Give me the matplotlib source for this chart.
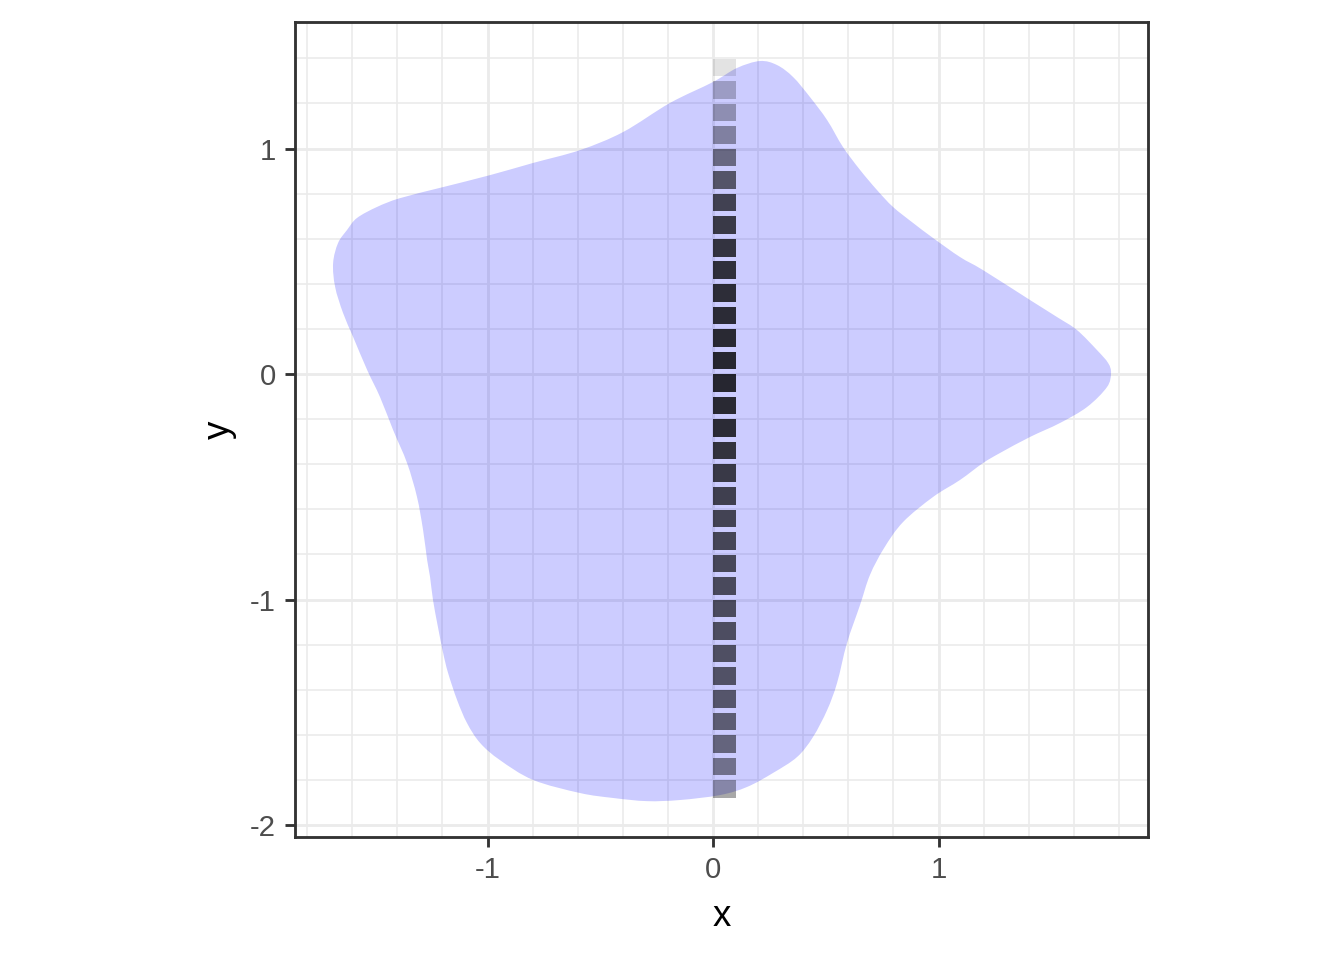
import numpy as np
import matplotlib.pyplot as plt
from matplotlib.ticker import MultipleLocator
from matplotlib.path import Path
from matplotlib.patches import PathPatch

plt.rcParams['font.family'] = ['Liberation Sans', 'DejaVu Sans']

# outline of the blob (clockwise from the top)
blob_x = [0.208, 0.284, 0.355, 0.430, 0.506, 0.576, 0.652, 0.727, 0.798, 0.887,
          0.976, 1.095, 1.197, 1.406, 1.525, 1.614, 1.703, 1.752, 1.765, 1.747,
          1.659, 1.539, 1.406, 1.273, 1.197, 1.095, 0.976, 0.843, 0.759, 0.696,
          0.652, 0.594, 0.550, 0.506, 0.443, 0.373, 0.266, 0.151, 0.031, -0.146,
          -0.293, -0.443, -0.590, -0.798, -0.945, -1.033, -1.091, -1.135, -1.175, -1.197,
          -1.220, -1.242, -1.255, -1.268, -1.286, -1.313, -1.357, -1.419, -1.477, -1.534,
          -1.596, -1.641, -1.676, -1.685, -1.663, -1.623, -1.579, -1.490, -1.388, -1.197,
          -0.989, -0.798, -0.590, -0.399, -0.191, 0.000, 0.106]
blob_y = [1.388, 1.370, 1.317, 1.228, 1.126, 1.007, 0.905, 0.816, 0.741, 0.670,
          0.603, 0.519, 0.461, 0.328, 0.253, 0.195, 0.106, 0.049, 0.004, -0.058,
          -0.146, -0.217, -0.279, -0.350, -0.395, -0.470, -0.545, -0.656, -0.771, -0.891,
          -1.024, -1.193, -1.370, -1.490, -1.610, -1.698, -1.769, -1.831, -1.867, -1.889,
          -1.894, -1.880, -1.858, -1.800, -1.712, -1.636, -1.548, -1.446, -1.326, -1.237,
          -1.122, -1.002, -0.900, -0.825, -0.692, -0.545, -0.395, -0.248, -0.102, 0.018,
          0.164, 0.271, 0.386, 0.492, 0.581, 0.639, 0.692, 0.741, 0.780, 0.829,
          0.882, 0.936, 0.993, 1.073, 1.202, 1.295, 1.357]

# tile column: centres along y and their opacity
tile_y = np.round(np.arange(1.36, -1.85, -0.1), 2)
tile_alpha = [0.11, 0.23, 0.30, 0.37, 0.49, 0.59, 0.68, 0.72, 0.75, 0.77,
              0.78, 0.79, 0.80, 0.81, 0.81, 0.80, 0.79, 0.755, 0.72, 0.69,
              0.67, 0.66, 0.65, 0.64, 0.63, 0.62, 0.61, 0.60, 0.58, 0.55,
              0.51, 0.45, 0.34]
tile_x = 0.05


def smooth_closed_path(xs, ys):
    # closed bezier path through the outline points (catmull-rom handles)
    p = np.column_stack([xs, ys])
    n = len(p)
    verts = [p[0]]
    codes = [Path.MOVETO]
    for i in range(n):
        p0, p1, p2, p3 = p[i - 1], p[i], p[(i + 1) % n], p[(i + 2) % n]
        verts += [p1 + (p2 - p0) / 6, p2 - (p3 - p1) / 6, p2]
        codes += [Path.CURVE4] * 3
    verts.append(p[0])
    codes.append(Path.CLOSEPOLY)
    return Path(verts, codes)


fig = plt.figure(figsize=(7, 5), dpi=192)
ax = fig.add_axes([295 / 1344, 1 - 837 / 960, 853 / 1344, 815 / 960])

ax.add_patch(PathPatch(smooth_closed_path(blob_x, blob_y), facecolor='blue',
                       alpha=0.2, lw=0, zorder=2))

for yy, aa in zip(tile_y, tile_alpha):
    ax.add_patch(plt.Rectangle((tile_x - 0.05, yy - 0.039), 0.1, 0.078,
                               facecolor='black', alpha=aa, lw=0, zorder=3))

ax.set_xlim(-1.854, 1.929)
ax.set_ylim(-2.053, 1.561)
ax.set_aspect('equal', adjustable='datalim')

ax.xaxis.set_major_locator(MultipleLocator(1))
ax.yaxis.set_major_locator(MultipleLocator(1))
ax.xaxis.set_minor_locator(MultipleLocator(0.2))
ax.yaxis.set_minor_locator(MultipleLocator(0.2))
ax.grid(which='major', color='#EBEBEB', lw=1.07, zorder=0)
ax.grid(which='minor', color='#EBEBEB', lw=0.6, zorder=0)
ax.set_axisbelow(True)
ax.tick_params(which='minor', length=0)
ax.tick_params(which='major', length=3.7, width=1.07, color='#333333',
               labelcolor='#4D4D4D', labelsize=11, pad=3.5)
ax.set_xticks([-1, 0, 1], ['-1', '0', '1'])
ax.set_yticks([-2, -1, 0, 1], ['-2', '-1', '0', '1'])

for s in ax.spines.values():
    s.set_color('#333333')
    s.set_linewidth(1.07)

ax.set_xlabel('x', fontsize=13.75, labelpad=5.5)
ax.set_ylabel('y', fontsize=13.75, labelpad=5)

fig.savefig('out.png', dpi=192)
